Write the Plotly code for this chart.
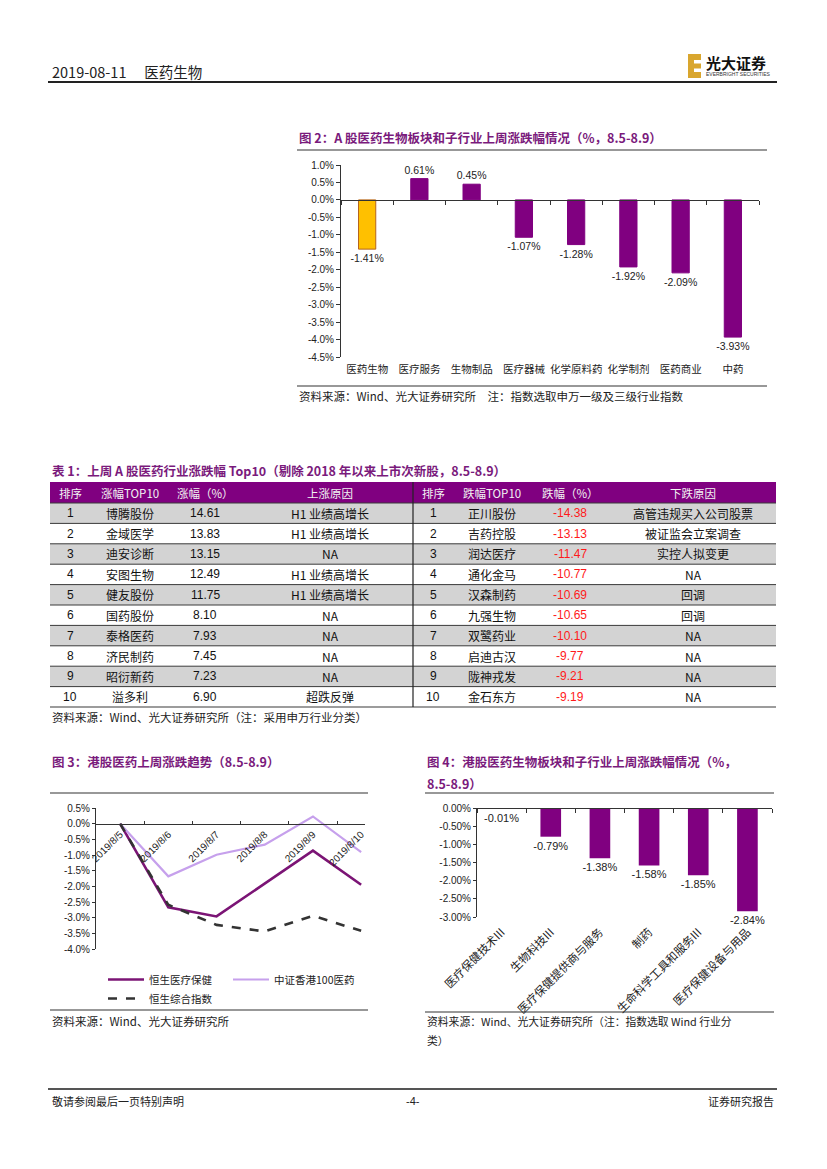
import plotly.graph_objects as go

W, H = 827, 1169
def px(x): return x / W
def py(y): return 1 - y / H

FONT = "Liberation Sans, Noto Sans CJK SC, sans-serif"
CJK = "Noto Sans CJK SC, Liberation Sans, sans-serif"
PURPLE = "#800080"
TPURPLE = "#7A1A7C"
TXT = "#222222"

# ---------------- data ----------------
fig2_categories = ["医药生物", "医疗服务", "生物制品", "医疗器械", "化学原料药", "化学制剂", "医药商业", "中药"]
fig2_values = [-1.41, 0.61, 0.45, -1.07, -1.28, -1.92, -2.09, -3.93]
fig2_ticks = [1.0, 0.5, 0.0, -0.5, -1.0, -1.5, -2.0, -2.5, -3.0, -3.5, -4.0, -4.5]

fig3_dates = ["2019/8/5", "2019/8/6", "2019/8/7", "2019/8/8", "2019/8/9", "2019/8/10"]
hs_healthcare = [0.0, -2.67, -2.96, -1.91, -0.86, -1.95]
csi_hk100_pharma = [0.0, -1.68, -0.99, -0.67, 0.23, -0.91]
hs_composite = [0.0, -2.59, -3.23, -3.44, -2.94, -3.42]
fig3_ticks = [0.5, 0.0, -0.5, -1.0, -1.5, -2.0, -2.5, -3.0, -3.5, -4.0]

fig4_categories = ["医疗保健技术III", "生物科技III", "医疗保健提供商与服务", "制药", "生命科学工具和服务III", "医疗保健设备与用品"]
fig4_values = [-0.01, -0.79, -1.38, -1.58, -1.85, -2.84]
fig4_ticks = [0.0, -0.5, -1.0, -1.5, -2.0, -2.5, -3.0]

table_rank = [1, 2, 3, 4, 5, 6, 7, 8, 9, 10]
rise_names = ["博腾股份", "金域医学", "迪安诊断", "安图生物", "健友股份", "国药股份", "泰格医药", "济民制药", "昭衍新药", "溢多利"]
rise_pct = [14.61, 13.83, 13.15, 12.49, 11.75, 8.10, 7.93, 7.45, 7.23, 6.90]
rise_reason = ["H1 业绩高增长", "H1 业绩高增长", "NA", "H1 业绩高增长", "H1 业绩高增长", "NA", "NA", "NA", "NA", "超跌反弹"]
fall_names = ["正川股份", "吉药控股", "润达医疗", "通化金马", "汉森制药", "九强生物", "双鹭药业", "启迪古汉", "陇神戎发", "金石东方"]
fall_pct = [-14.38, -13.13, -11.47, -10.77, -10.69, -10.65, -10.10, -9.77, -9.21, -9.19]
fall_reason = ["高管违规买入公司股票", "被证监会立案调查", "实控人拟变更", "NA", "回调", "回调", "NA", "NA", "NA", "NA"]
table_header = ["排序", "涨幅TOP10", "涨幅（%）", "上涨原因", "排序", "跌幅TOP10", "跌幅（%）", "下跌原因"]

fig = go.Figure()

# ---------------- Figure 2 ----------------
fig.add_trace(go.Bar(
    x=fig2_categories, y=fig2_values, xaxis="x", yaxis="y",
    marker=dict(color=["#FFC000"] + [PURPLE] * (len(fig2_values) - 1),
                line=dict(color=["#B5651D"] + [PURPLE] * (len(fig2_values) - 1), width=1)),
    width=0.33,
    text=[f"{v:.2f}%" for v in fig2_values], textposition="outside", constraintext="none",
    textfont=dict(family=FONT, size=10.5, color=TXT), cliponaxis=False, showlegend=False))

# ---------------- Figure 3 ----------------
fig.add_trace(go.Scatter(x=fig3_dates, y=hs_healthcare, mode="lines", name="恒生医疗保健",
                         line=dict(color="#7B1475", width=2.6), xaxis="x2", yaxis="y2", legend="legend"))
fig.add_trace(go.Scatter(x=fig3_dates, y=csi_hk100_pharma, mode="lines", name="中证香港100医药",
                         line=dict(color="#C6A0EC", width=2.2), xaxis="x2", yaxis="y2", legend="legend3"))
fig.add_trace(go.Scatter(x=fig3_dates, y=hs_composite, mode="lines", name="恒生综合指数",
                         line=dict(color="#333333", width=2.6, dash="dash"), xaxis="x2", yaxis="y2", legend="legend2"))

# ---------------- Figure 4 ----------------
fig.add_trace(go.Bar(
    x=fig4_categories, y=fig4_values, xaxis="x3", yaxis="y3",
    marker=dict(color=PURPLE), width=0.42,
    text=[f"{v:.2f}%" for v in fig4_values], textposition="outside", constraintext="none",
    textfont=dict(family=FONT, size=11, color=TXT), cliponaxis=False, showlegend=False))

def zero_pos(dom, rng):
    return dom[0] + (0 - rng[0]) / (rng[1] - rng[0]) * (dom[1] - dom[0])

y2dom = [py(357), py(165)]; y2rng = [-4.5, 1.0]
y3dom = [py(949), py(808)]; y3rng = [-4.0, 0.5]
y4dom = [py(917), py(808)]; y4rng = [-3.0, 0.0]

axis_common = dict(showgrid=False, zeroline=False, linecolor="#333333", linewidth=1)
leg_common = dict(xanchor="left", yanchor="top", orientation="h", itemwidth=36,
                  font=dict(family=CJK, size=10.5, color=TXT), bgcolor="rgba(0,0,0,0)")

fig.update_layout(
    xaxis=dict(domain=[px(341), px(759)], anchor="free", position=zero_pos(y2dom, y2rng),
               type="category", range=[-0.5, 7.5], showline=True, ticks="outside", ticklen=4,
               tickson="boundaries", tickcolor="#333333", ticklabelstandoff=159, tickangle=0,
               tickfont=dict(family=CJK, size=10.5, color=TXT), **axis_common),
    yaxis=dict(domain=y2dom, anchor="x", range=y2rng, tickvals=fig2_ticks,
               ticktext=[f"{v:.1f}%" for v in fig2_ticks], showline=True, ticks="outside",
               ticklen=4, tickcolor="#333333", tickfont=dict(family=FONT, size=10, color=TXT),
               **axis_common),
    xaxis2=dict(domain=[px(96), px(365)], anchor="free", position=zero_pos(y3dom, y3rng),
                type="category", range=[-0.5, 5.08], showline=True, ticks="inside", ticklen=3,
                tickson="boundaries", tickangle=-45, tickcolor="#333333",
                tickfont=dict(family=FONT, size=10, color=TXT), **axis_common),
    yaxis2=dict(domain=y3dom, anchor="x2", range=y3rng, tickvals=fig3_ticks,
                ticktext=[f"{v:.1f}%" for v in fig3_ticks], showline=True, ticks="outside",
                ticklen=3, tickcolor="#333333", tickfont=dict(family=FONT, size=10, color=TXT),
                **axis_common),
    xaxis3=dict(domain=[px(477), px(772)], anchor="free", position=zero_pos(y4dom, y4rng),
                type="category", range=[-0.5, 5.5], showline=True, ticks="outside", ticklen=4,
                tickson="boundaries", tickangle=-45, tickcolor="#333333", ticklabelstandoff=112,
                tickfont=dict(family=CJK, size=11.5, color=TXT), **axis_common),
    yaxis3=dict(domain=y4dom, anchor="x3", range=y4rng, tickvals=fig4_ticks,
                ticktext=[f"{v:.2f}%" for v in fig4_ticks], showline=True, ticks="outside",
                ticklen=3, tickcolor="#333333", tickfont=dict(family=FONT, size=10, color=TXT),
                **axis_common),
    legend=dict(x=px(103), y=py(965), **leg_common),
    legend3=dict(x=px(228), y=py(965), **leg_common),
    legend2=dict(x=px(103), y=py(984), **leg_common),
    width=W, height=H, margin=dict(l=0, r=0, t=0, b=0),
    paper_bgcolor="white", plot_bgcolor="white", template="none",
    font=dict(family=CJK, color=TXT),
)

shapes = []
annos = []

def hline(x0, x1, y, color="#333333", width=1):
    shapes.append(dict(type="line", xref="paper", yref="paper", x0=px(x0), x1=px(x1),
                       y0=py(y), y1=py(y), line=dict(color=color, width=width)))

def vline(x, y0, y1, color="#333333", width=1):
    shapes.append(dict(type="line", xref="paper", yref="paper", x0=px(x), x1=px(x),
                       y0=py(y0), y1=py(y1), line=dict(color=color, width=width)))

def rect(x0, y0, x1, y1, fill):
    shapes.append(dict(type="rect", xref="paper", yref="paper", x0=px(x0), x1=px(x1),
                       y0=py(y1), y1=py(y0), fillcolor=fill, line=dict(width=0), layer="below"))

def text(x, y, s, size=11, color=TXT, family=CJK, xanchor="left", bold=False):
    if bold:
        s = f"<b>{s}</b>"
    annos.append(dict(x=px(x), y=py(y), xref="paper", yref="paper", text=s, showarrow=False,
                      xanchor=xanchor, yanchor="middle", font=dict(family=family, size=size, color=color)))

# ---- header ----
text(50, 71, "2019-08-11　 医药生物", size=14.5, family="Liberation Sans Narrow, Noto Sans CJK SC")
hline(48, 777, 82, color="#222222", width=2)
rect(688, 54, 701, 78, "#D9A62E")
rect(694, 60, 701, 63.5, "white")
rect(694, 68.5, 701, 72, "white")
text(704, 63, "光大证券", size=15, color="#111111", bold=True)
text(704, 74, "EVERBRIGHT SECURITIES", size=5, color="#333333", family=FONT)

# ---- figure 2 ----
text(297, 137, "图 2：A 股医药生物板块和子行业上周涨跌幅情况（%，8.5-8.9）", size=12.5, color=TPURPLE, bold=True)
hline(297, 767, 150, color="#333333", width=1.2)
hline(297, 767, 386, color="#333333", width=1.2)
text(297, 396, "资料来源：Wind、光大证券研究所　注：指数选取申万一级及三级行业指数", size=11.5, color=TXT)

# ---- table ----
text(50, 470, "表 1：上周 A 股医药行业涨跌幅 Top10（剔除 2018 年以来上市次新股，8.5-8.9）", size=12.5, color=TPURPLE, bold=True)
T_TOP, T_HDR, ROW_H = 482, 503, 20.4
TX0, TX1, TMID = 50, 776, 413
centers = [70, 130, 205, 330, 433, 492, 570, 693]
rect(TX0, T_TOP, TX1, T_HDR, PURPLE)
for c, h in zip(centers, table_header):
    text(c, (T_TOP + T_HDR) / 2, h, size=11.5, color="#F2F2F2", xanchor="center")
for i in range(len(table_rank)):
    y0 = T_HDR + i * ROW_H
    y1 = y0 + ROW_H
    if i % 2 == 0:
        rect(TX0, y0, TX1, y1, "#D3D3D3")
    ym = (y0 + y1) / 2
    row = [str(table_rank[i]), rise_names[i], f"{rise_pct[i]:.2f}", rise_reason[i],
           str(table_rank[i]), fall_names[i], f"{fall_pct[i]:.2f}", fall_reason[i]]
    for j, (c, s) in enumerate(zip(centers, row)):
        col = "#FF1A1A" if j == 6 else "#111111"
        fam = FONT if j in (0, 2, 4, 6) else CJK
        text(c, ym, s, size=12, color=col, family=fam, xanchor="center")
    hline(TX0, TX1, y0, color="#3A3A3A", width=1)
hline(TX0, TX1, T_HDR + len(table_rank) * ROW_H, color="#3A3A3A", width=1.2)
vline(TMID, T_TOP, T_HDR + len(table_rank) * ROW_H, color="#222222", width=1.2)
text(50, 717, "资料来源：Wind、光大证券研究所（注：采用申万行业分类）", size=11.5, color=TXT)

# ---- figure 3 ----
text(50, 761, "图 3：港股医药上周涨跌趋势（8.5-8.9）", size=12.5, color=TPURPLE, bold=True)
hline(50, 368, 793, color="#333333", width=1.2)
hline(50, 368, 1010, color="#333333", width=1.2)
text(50, 1021, "资料来源：Wind、光大证券研究所", size=11.5, color=TXT)

# ---- figure 4 ----
text(425, 761, "图 4：港股医药生物板块和子行业上周涨跌幅情况（%，", size=12.5, color=TPURPLE, bold=True)
text(425, 783, "8.5-8.9）", size=12.5, color=TPURPLE, bold=True)
hline(425, 774, 793, color="#333333", width=1.2)
hline(425, 774, 1012, color="#333333", width=1.2)
text(425, 1021, "资料来源：Wind、光大证券研究所（注：指数选取 Wind 行业分", size=10.8, color=TXT)
text(425, 1040, "类）", size=10.8, color=TXT)

# ---- footer ----
hline(48, 777, 1089, color="#555555", width=2)
text(50, 1101, "敬请参阅最后一页特别声明", size=11, family="Noto Sans CJK SC")
text(413, 1101, "-4-", size=11, family=FONT, xanchor="center")
text(776, 1101, "证券研究报告", size=11, xanchor="right")

fig.update_layout(shapes=shapes, annotations=annos)

fig.write_html("out.html", config={"displayModeBar": False},
               post_script="document.body.style.margin='0';document.body.style.overflow='hidden';")
